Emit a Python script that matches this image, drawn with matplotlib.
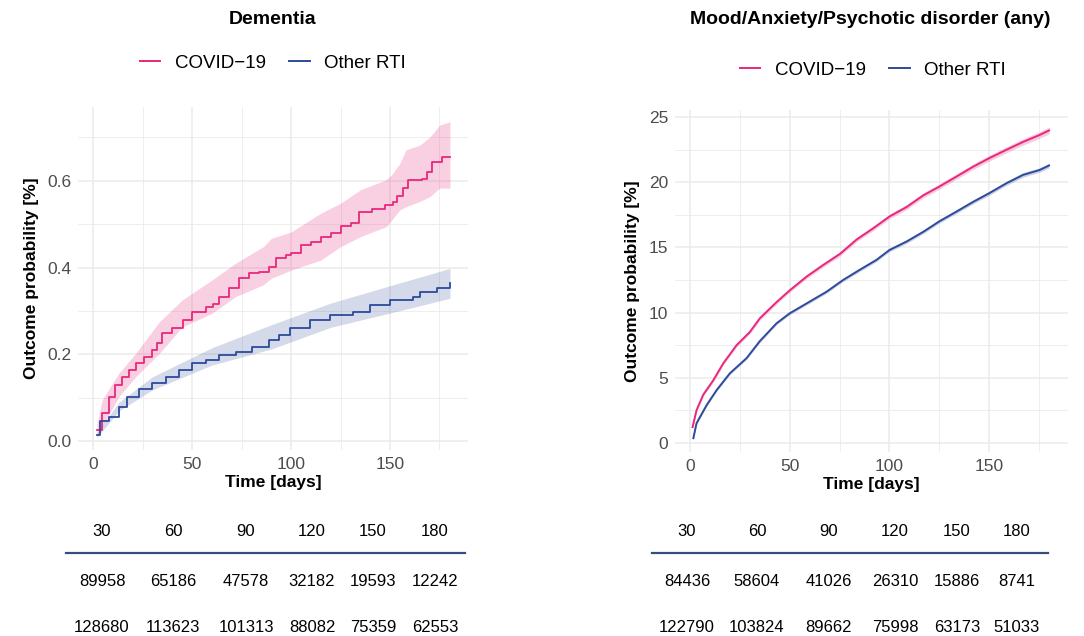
import matplotlib
matplotlib.use("Agg")
import matplotlib.pyplot as plt
from matplotlib.lines import Line2D
import numpy as np

plt.rcParams['font.family'] = ['Liberation Sans', 'DejaVu Sans']

# ---------------------------------------------------------------
# Data
# ---------------------------------------------------------------
groups = ["COVID-19", "Other RTI"]

# Dementia - cumulative incidence [%], COVID-19
dem_cov_t = [2.0, 4.6, 7.9, 11.3, 14.7, 18.1, 21.5, 25.7, 29.9, 32.5, 35.0, 40.1, 45.2, 50.2,
             57.0, 60.4, 63.7, 68.8, 73.9, 78.9, 84.0, 89.1, 92.5, 97.6, 100.1, 105.2, 110.3,
             115.3, 120.4, 125.5, 130.5, 134.3, 140.7, 147.4, 151.7, 153.4, 156.8, 159.3,
             166.1, 168.6, 171.1, 176.2, 180.3]
dem_cov_est = [0.025, 0.064, 0.102, 0.129, 0.148, 0.164, 0.180, 0.194, 0.210, 0.225, 0.250,
               0.260, 0.279, 0.298, 0.310, 0.316, 0.333, 0.352, 0.375, 0.388, 0.390, 0.402,
               0.421, 0.429, 0.433, 0.452, 0.459, 0.471, 0.480, 0.496, 0.502, 0.529, 0.534,
               0.544, 0.552, 0.565, 0.583, 0.602, 0.603, 0.621, 0.644, 0.654, 0.654]
# confidence band (own time grid)
dem_cov_band_t = [2.0, 4.6, 13.0, 21.5, 33.5, 45.0, 60.0, 72.0, 86.0, 90.0, 100.0, 115.0,
                  125.0, 135.0, 148.0, 151.0, 155.0, 158.0, 165.0, 170.0, 175.0, 180.3]
dem_cov_lo = [0.012, 0.033, 0.102, 0.148, 0.202, 0.263, 0.294, 0.333, 0.360, 0.375, 0.394,
              0.417, 0.448, 0.471, 0.494, 0.510, 0.533, 0.540, 0.552, 0.563, 0.583, 0.583]
dem_cov_hi = [0.040, 0.095, 0.156, 0.202, 0.275, 0.325, 0.371, 0.410, 0.448, 0.467, 0.482,
              0.525, 0.548, 0.579, 0.602, 0.615, 0.640, 0.671, 0.682, 0.700, 0.728, 0.736]

# Dementia - Other RTI
dem_oth_t = [2.0, 3.7, 7.9, 13.0, 17.2, 23.1, 29.9, 36.6, 43.4, 50.1, 56.9, 63.6, 72.0, 80.4,
             88.9, 94.0, 99.5, 109.6, 119.7, 131.5, 139.9, 150.1, 161.8, 165.2, 173.6, 180.3]
dem_oth_est = [0.014, 0.045, 0.056, 0.079, 0.102, 0.121, 0.133, 0.148, 0.164, 0.179, 0.187,
               0.198, 0.206, 0.217, 0.233, 0.245, 0.260, 0.279, 0.290, 0.298, 0.314, 0.325,
               0.333, 0.344, 0.352, 0.364]
dem_oth_band_t = [2.0, 13.0, 30.0, 60.0, 90.0, 120.0, 150.0, 180.3]
dem_oth_lo = [0.008, 0.069, 0.118, 0.175, 0.212, 0.262, 0.295, 0.329]
dem_oth_hi = [0.020, 0.089, 0.148, 0.215, 0.268, 0.318, 0.358, 0.398]

# Mood/Anxiety/Psychotic disorder - cumulative incidence [%]
mood_cov_t = [1.3, 3.3, 6.7, 11.7, 16.7, 23.4, 30, 35, 43.4, 50, 58.5, 66.8, 75.2, 83.5,
              91.9, 100, 108.6, 117, 125, 133.6, 142, 150, 158.7, 167, 175.4, 180]
mood_cov_est = [1.2, 2.5, 3.7, 4.8, 6.1, 7.5, 8.5, 9.55, 10.8, 11.7, 12.76, 13.65, 14.5, 15.6,
                16.47, 17.37, 18.1, 19.0, 19.67, 20.44, 21.2, 21.85, 22.5, 23.1, 23.64, 23.98]
mood_cov_ci = [0.10, 0.12, 0.12, 0.13, 0.13, 0.14, 0.14, 0.15, 0.15, 0.15, 0.16, 0.16, 0.17,
               0.17, 0.18, 0.18, 0.19, 0.19, 0.20, 0.20, 0.21, 0.22, 0.23, 0.24, 0.25, 0.26]

mood_oth_t = [1.7, 3.3, 8.4, 13.4, 20, 28.4, 35, 43.4, 50, 58.5, 68.5, 76.8, 85, 93.5, 100,
              108.6, 117, 125, 133.6, 142, 150, 158.7, 167, 175.4, 180]
mood_oth_est = [0.35, 1.5, 2.9, 4.05, 5.33, 6.5, 7.8, 9.17, 9.94, 10.7, 11.6, 12.5, 13.27,
                14.04, 14.8, 15.45, 16.2, 17.0, 17.75, 18.5, 19.16, 19.93, 20.57, 20.95, 21.29]
mood_oth_ci = [0.08, 0.09, 0.09, 0.10, 0.10, 0.10, 0.11, 0.11, 0.11, 0.12, 0.12, 0.12, 0.13,
               0.13, 0.13, 0.14, 0.14, 0.14, 0.15, 0.15, 0.16, 0.16, 0.17, 0.17, 0.18]

# Numbers at risk
risk_days = ["30", "60", "90", "120", "150", "180"]
dem_risk_cov = [89958, 65186, 47578, 32182, 19593, 12242]
dem_risk_oth = [128680, 113623, 101313, 88082, 75359, 62553]
mood_risk_cov = [84436, 58604, 41026, 26310, 15886, 8741]
mood_risk_oth = [122790, 103824, 89662, 75998, 63173, 51033]

# ---------------------------------------------------------------
# Styling
# ---------------------------------------------------------------
PINK = "#e8287c"
BLUE = "#2d4a9b"
GRID = "#ebebeb"
TICK = "#4d4d4d"
W, H = 1084, 636


def fx(px):
    return px / W


def fy(py):
    return 1 - py / H


fig = plt.figure(figsize=(W / 100, H / 100), dpi=100)


def style_axes(ax, xlim, ylim, yticks, yminor, ylabels):
    ax.set_xlim(*xlim)
    ax.set_ylim(*ylim)
    ax.set_xticks([0, 50, 100, 150])
    ax.set_xticks([25, 75, 125, 175], minor=True)
    ax.set_yticks(yticks)
    ax.set_yticklabels(ylabels)
    ax.set_yticks(yminor, minor=True)
    ax.grid(True, which="major", color=GRID, linewidth=1.1)
    ax.grid(True, which="minor", color=GRID, linewidth=0.6)
    ax.set_axisbelow(True)
    for s in ax.spines.values():
        s.set_visible(False)
    ax.tick_params(which="both", length=0, labelsize=12.5, colors=TICK, pad=5)
    ax.set_xlabel("Time [days]", fontsize=12.5, fontweight="bold", labelpad=2)
    ax.set_ylabel("Outcome probability [%]", fontsize=12.5, fontweight="bold", labelpad=6)


# ---- Dementia panel ----
ax1 = fig.add_axes([fx(78), fy(450), fx(390), 343 / H])
ax1.fill_between(dem_cov_band_t, dem_cov_lo, dem_cov_hi, color=PINK, alpha=0.22, lw=0)
ax1.fill_between(dem_oth_band_t, dem_oth_lo, dem_oth_hi, color=BLUE, alpha=0.2, lw=0)
ax1.step(dem_cov_t, dem_cov_est, where="post", color=PINK, lw=1.3)
ax1.step(dem_oth_t, dem_oth_est, where="post", color=BLUE, lw=1.3)
style_axes(ax1, (-7.6, 189.4), (-0.0207, 0.770),
           [0.0, 0.2, 0.4, 0.6], [0.1, 0.3, 0.5, 0.7], ["0.0", "0.2", "0.4", "0.6"])

# ---- Mood panel ----
ax2 = fig.add_axes([fx(675), fy(452), fx(393), 342 / H])
mc_lo = np.array(mood_cov_est) - np.array(mood_cov_ci)
mc_hi = np.array(mood_cov_est) + np.array(mood_cov_ci)
mo_lo = np.array(mood_oth_est) - np.array(mood_oth_ci)
mo_hi = np.array(mood_oth_est) + np.array(mood_oth_ci)
ax2.fill_between(mood_cov_t, mc_lo, mc_hi, color=PINK, alpha=0.25, lw=0)
ax2.fill_between(mood_oth_t, mo_lo, mo_hi, color=BLUE, alpha=0.25, lw=0)
ax2.plot(mood_cov_t, mood_cov_est, color=PINK, lw=1.4)
ax2.plot(mood_oth_t, mood_oth_est, color=BLUE, lw=1.4)
style_axes(ax2, (-7.5, 189.5), (-0.71, 25.55),
           [0, 5, 10, 15, 20, 25], [2.5, 7.5, 12.5, 17.5, 22.5],
           ["0", "5", "10", "15", "20", "25"])

# ---- Titles and legends ----
fig.text(fx(273), fy(20), "Dementia", ha="center", va="center",
         fontsize=14, fontweight="bold")
fig.text(fx(870), fy(20), "Mood/Anxiety/Psychotic disorder (any)", ha="center",
         va="center", fontsize=14, fontweight="bold")

handles = [Line2D([], [], color=PINK, lw=1.4), Line2D([], [], color=BLUE, lw=1.4)]
labels = ["COVID\u221219", "Other RTI"]
for cx, cy in [(273, 63), (873, 70)]:
    fig.legend(handles, labels, loc="center", bbox_to_anchor=(fx(cx), fy(cy)),
               ncol=2, frameon=False, fontsize=13.5, handlelength=1.1,
               handletextpad=0.8, columnspacing=1.2)

# ---- Risk tables ----
tables = [
    (66, 465, [102, 173, 246, 312, 373, 435], dem_risk_cov, dem_risk_oth),
    (652, 1048, [687, 757, 829, 895, 957, 1017], mood_risk_cov, mood_risk_oth),
]
for x0, x1, cols, row1, row2 in tables:
    for cx, d, a, b in zip(cols, risk_days, row1, row2):
        fig.text(fx(cx), fy(531), d, ha="center", va="center", fontsize=12)
        fig.text(fx(cx), fy(581), str(a), ha="center", va="center", fontsize=12)
        fig.text(fx(cx), fy(627), str(b), ha="center", va="center", fontsize=12)
    fig.add_artist(Line2D([fx(x0), fx(x1)], [fy(553), fy(553)], color="#34507a", lw=1.6))

fig.savefig("out.png", dpi=100)
